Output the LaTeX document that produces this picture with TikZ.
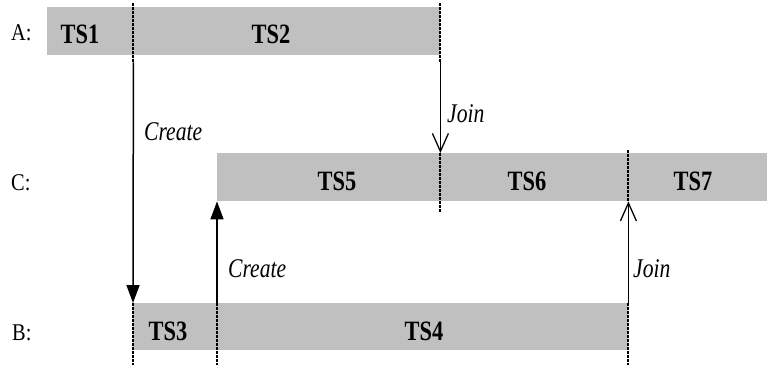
\documentclass[tikz,border=0pt]{standalone}
\usepackage{fontspec}
\usepackage{graphicx}
\setmainfont{Liberation Serif}
\usetikzlibrary{arrows.meta}
\newcommand{\tslabel}[1]{\scalebox{0.8}[1]{\fontsize{28}{32}\selectfont\bfseries #1}}
\newcommand{\evlabel}[1]{\scalebox{0.8}[1]{\fontsize{27}{31}\selectfont\itshape #1}}
\newcommand{\rowlabel}[1]{\scalebox{0.85}[1]{\fontsize{24}{28}\selectfont #1}}
\begin{document}
\begin{tikzpicture}[x=1pt,y=-1pt,
  seg/.style={rectangle,fill=segfill,draw=none,inner sep=0pt,anchor=north west,minimum height=48pt},
  tstext/.style={anchor=base,inner sep=0pt},
  evtext/.style={anchor=base west,inner sep=0pt},
  rowtext/.style={anchor=base west,inner sep=0pt},
  dotline/.style={line width=2pt,dash pattern=on 2.5pt off 1.5pt},
  createarrow/.style={line width=1.5pt,-{Triangle[length=18pt,width=13pt]}},
  joinarrow/.style={line width=1.3pt,-{Straight Barb[length=18pt,width=16pt]}}]
\definecolor{segfill}{HTML}{C0C0C0}
\useasboundingbox (0,0) rectangle (767,365);
% segments
\node[seg,minimum width=86pt] (A1) at (47,7) {};
\node[seg,minimum width=307pt] (A2) at (133,7) {};
\node[seg,minimum width=223pt] (C5) at (217,153) {};
\node[seg,minimum width=188pt] (C6) at (440,153) {};
\node[seg,minimum width=139pt] (C7) at (628,153) {};
\node[seg,minimum width=84pt,minimum height=47pt] (B3) at (133,303) {};
\node[seg,minimum width=411pt,minimum height=47pt] (B4) at (217,303) {};
% segment texts
\node[tstext] (tA1) at (80,43) {\tslabel{TS1}};
\node[tstext] (tA2) at (271,43) {\tslabel{TS2}};
\node[tstext] (tC5) at (337,190) {\tslabel{TS5}};
\node[tstext] (tC6) at (527,190) {\tslabel{TS6}};
\node[tstext] (tC7) at (693,190) {\tslabel{TS7}};
\node[tstext] (tB3) at (168,340) {\tslabel{TS3}};
\node[tstext] (tB4) at (424,340) {\tslabel{TS4}};
% row labels
\node[rowtext] (rA) at (11,40) {\rowlabel{A:}};
\node[rowtext] (rC) at (11,190) {\rowlabel{C:}};
\node[rowtext] (rB) at (12,340) {\rowlabel{B:}};
% dotted boundaries
\draw[dotline] ([yshift=4pt]A1.north east) -- ([yshift=-7pt]A1.south east);
\draw[dotline] ([yshift=4pt]A2.north east) -- ([yshift=-7pt]A2.south east);
\draw[dotline] (C5.north east) -- ([yshift=-11pt]C5.south east);
\draw[dotline] ([yshift=3pt]C6.north east) -- (C6.south east);
\draw[dotline] (B3.north west) -- ([yshift=-15pt]B3.south west);
\draw[dotline] (B4.north west) -- ([yshift=-15pt]B4.south west);
\draw[dotline] (B4.north east) -- ([yshift=-15pt]B4.south east);
% events
\draw[createarrow] ([yshift=-7pt]A1.south east) -- (B3.north west);
\draw[joinarrow] ([yshift=-7pt]A2.south east) -- (C5.north east);
\draw[createarrow] (B4.north west) -- (C5.south west);
\draw[joinarrow] (B4.north east) -- (C6.south east);
\node[evtext] (e1) at (144,140) {\evlabel{Create}};
\node[evtext] (e2) at (447,122) {\evlabel{Join}};
\node[evtext] (e3) at (228,277) {\evlabel{Create}};
\node[evtext] (e4) at (633,277) {\evlabel{Join}};
\end{tikzpicture}
\end{document}
